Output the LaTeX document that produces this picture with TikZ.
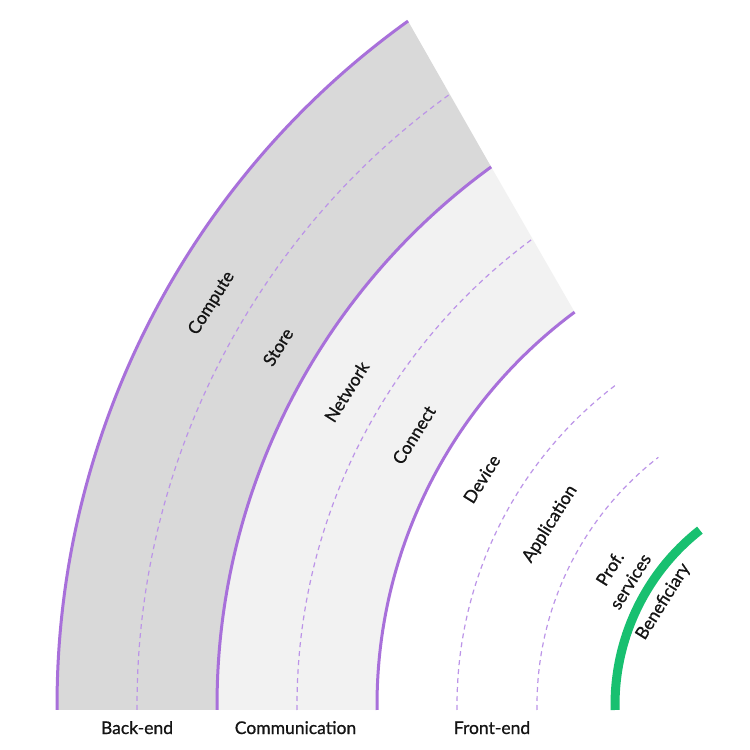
\documentclass[tikz,border=0pt]{standalone}
\usepackage{fontspec}
\setmainfont{Lato}
\newfontfamily\lblfont{Lato}[FakeBold=0.8]
\definecolor{arcpurple}{RGB}{168,112,218}
\definecolor{dashpurple}{RGB}{188,148,232}
\definecolor{bandA}{RGB}{217,217,217}
\definecolor{bandB}{RGB}{242,242,242}
\definecolor{benefgreen}{RGB}{24,192,112}
\definecolor{labeltext}{RGB}{20,20,20}
\begin{document}
\begin{tikzpicture}[x=1pt,y=1pt,
  solidarc/.style={draw=arcpurple, line width=3pt},
  dasharc/.style={draw=dashpurple, line width=1.2pt, dash pattern=on 5pt off 4pt},
  greenarc/.style={draw=benefgreen, line width=9pt},
  lbl/.style={font=\lblfont\fontsize{17.5}{24}\selectfont, text=labeltext, inner sep=0pt},
  rlbl/.style={lbl, rotate=58, align=center}]
\fill[white] (0,0) rectangle (750,750);
\useasboundingbox (0,0) rectangle (750,750);
% arc centres
\coordinate (c0) at (898.9,45);
\coordinate (c1) at (889.8,45);
\coordinate (c2) at (882.1,45);
\coordinate (c3) at (876.0,45);
\coordinate (c4) at (866.4,45);
\coordinate (c5) at (858.9,45);
\coordinate (c6) at (850.5,45);
\coordinate (c7) at (837.5,45);
% bands
\fill[bandA] ([shift={(c0)}]180.34:841.9) arc[start angle=180.34, end angle=125.67, radius=841.9]
  -- ([shift={(c2)}]126.0:665.1) arc[start angle=126.0, end angle=180.43, radius=665.1] -- cycle;
\fill[bandB] ([shift={(c2)}]180.43:665.1) arc[start angle=180.43, end angle=126.0, radius=665.1]
  -- ([shift={(c4)}]126.6:489.4) arc[start angle=126.6, end angle=180.585, radius=489.4] -- cycle;
% arcs
\draw[solidarc] ([shift={(c0)}]180.34:841.9) arc[start angle=180.34, end angle=125.67, radius=841.9];
\draw[dasharc] ([shift={(c1)}]180.381:752.8) arc[start angle=180.381, end angle=125.75, radius=752.8];
\draw[solidarc] ([shift={(c2)}]180.43:665.1) arc[start angle=180.43, end angle=126.0, radius=665.1];
\draw[dasharc] ([shift={(c3)}]180.495:579.0) arc[start angle=180.495, end angle=126.3, radius=579.0];
\draw[solidarc] ([shift={(c4)}]180.585:489.4) arc[start angle=180.585, end angle=126.6, radius=489.4];
\draw[dasharc] ([shift={(c5)}]180.713:401.9) arc[start angle=180.713, end angle=127.2, radius=401.9];
\draw[dasharc] ([shift={(c6)}]180.914:313.5) arc[start angle=180.914, end angle=127.8, radius=313.5];
\draw[greenarc] ([shift={(c7)}]181.288:222.5) arc[start angle=181.288, end angle=128.2, radius=222.5];
% rotated labels
\node[rlbl] (compute) at (211.7,446.7) {Compute};
\node[rlbl] (store) at (278,403) {Store};
\node[rlbl] (network) at (346.7,358.3) {Network};
\node[rlbl] (connect) at (414,315) {Connect};
\node[rlbl] (device) at (481.7,271) {Device};
\node[rlbl] (application) at (550,226) {Application};
\node[rlbl] (profserv) at (620,175) {Prof.\\services};
\node[rlbl] (beneficiary) at (663.3,148.3) {Beneficiary};
% bottom labels
\node[lbl, anchor=base] (backend) at (137,16) {Back-end};
\node[lbl, anchor=base] (communication) at (295.5,16) {Communication};
\node[lbl, anchor=base] (frontend) at (492,16) {Front-end};
\end{tikzpicture}
\end{document}
